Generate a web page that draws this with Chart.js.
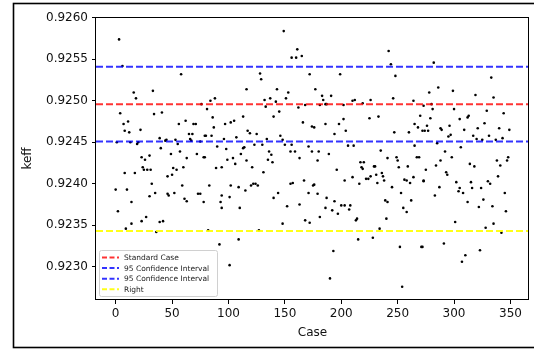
<!DOCTYPE html>
<html>
<head>
<meta charset="utf-8">
<script src="https://cdn.jsdelivr.net/npm/chart.js@4.4.1/dist/chart.umd.min.js"></script>
<style>
  html, body { margin: 0; padding: 0; background: #fff; }
  canvas { display: block; }
</style>
</head>
<body>
<canvas id="chartKeff" width="534" height="349"></canvas>
<script>
// case numbers and keff values
const caseNo = [
  3, 6, 58, 16, 18, 33, 76, 4, 34, 41, 7, 11, 8, 12, 22, 56, 62, 69, 71, 65, 68, 66, 79, 1, 13, 19, 20, 39, 40, 44,
  45, 53, 55, 57, 49, 67, 72, 75, 78, 23, 26, 30, 24, 25, 28, 31, 63, 60, 51, 54, 46, 50, 8, 17, 32, 0, 10, 14, 30, 35,
  46, 47, 52, 59, 61, 63, 73, 75, 78, 2, 14, 23, 27, 9, 39, 42, 36,
  149, 161, 156, 160, 165, 128, 129, 172, 116, 143, 153, 88, 84, 81, 132, 137, 142, 151, 133, 162, 168, 145, 140, 86, 113,
  87, 97, 102, 105, 166, 174, 117, 119, 125, 80, 85, 96, 107, 134, 146, 148, 90, 98, 113, 114, 111, 123, 130, 136, 138,
  150, 156, 155, 159, 171, 174, 79, 99, 104, 106, 116, 135, 139, 163, 89, 94, 121, 131, 83, 102, 109, 115, 120, 122, 124,
  126, 155, 157, 167, 175, 94, 101, 93, 94, 110, 140, 144, 152, 163, 171, 168, 172, 148, 82, 127, 109, 92, 101,
  242, 244, 248, 199, 177, 183, 184, 191, 181, 186, 187, 202, 210, 212, 219, 226, 246, 264, 270, 176, 186, 194, 198, 202,
  204, 225, 233, 247, 260, 265, 268, 272, 206, 211, 180, 189, 265, 179, 235, 241, 249, 250, 267, 269, 217, 220, 218, 219,
  229, 230, 251, 259, 196, 176, 203, 210, 216, 222, 224, 226, 231, 232, 236, 237, 238, 245, 256, 258, 261, 264, 273, 179,
  253, 187, 194, 239, 241, 262, 186, 192, 197, 200, 203, 208, 207, 213, 214, 181, 255, 258, 240, 234, 215, 228, 193, 252,
  271, 190, 254,
  282, 333, 286, 299, 278, 319, 335, 273, 280, 281, 300, 329, 344, 279, 305, 312, 313, 276, 296, 327, 274, 277, 288, 289,
  309, 321, 340, 349, 295, 297, 317, 320, 325, 331, 337, 343, 285, 306, 292, 298, 288, 284, 275, 293, 294, 314, 318, 338,
  341, 347, 348, 339, 273, 302, 305, 304, 308, 315, 316, 324, 330, 332, 287, 283, 345, 312, 326, 322, 334, 346, 301, 328,
  335, 342, 272, 291, 323, 310, 307
];
const keff = [
  0.92574, 0.92542, 0.92532, 0.92510, 0.92503, 0.92512, 0.92496, 0.92485, 0.92484, 0.92486, 0.92472, 0.92475, 0.92464,
  0.92462, 0.92465, 0.92472, 0.92476, 0.92472, 0.92472, 0.92460, 0.92460, 0.92454, 0.92458, 0.92450, 0.92450, 0.92448,
  0.92450, 0.92455, 0.92443, 0.92452, 0.92453, 0.92453, 0.92448, 0.92439, 0.92436, 0.92452, 0.92436, 0.92451, 0.92432,
  0.92432, 0.92429, 0.92434, 0.92420, 0.92417, 0.92417, 0.92417, 0.92431, 0.92420, 0.92419, 0.92417, 0.92409, 0.92411,
  0.92413, 0.92413, 0.92400, 0.92393, 0.92393, 0.92378, 0.92385, 0.92389, 0.92388, 0.92386, 0.92389, 0.92398, 0.92382,
  0.92379, 0.92388, 0.92388, 0.92378, 0.92367, 0.92352, 0.92355, 0.92360, 0.92346, 0.92354, 0.92355, 0.92342,
  0.92584, 0.92562, 0.92552, 0.92552, 0.92554, 0.92533, 0.92526, 0.92532, 0.92514, 0.92514, 0.92510, 0.92503, 0.92500,
  0.92490, 0.92501, 0.92503, 0.92499, 0.92503, 0.92493, 0.92492, 0.92495, 0.92487, 0.92481, 0.92480, 0.92481, 0.92468,
  0.92472, 0.92474, 0.92476, 0.92474, 0.92469, 0.92464, 0.92461, 0.92460, 0.92458, 0.92458, 0.92454, 0.92456, 0.92454,
  0.92458, 0.92453, 0.92445, 0.92442, 0.92443, 0.92444, 0.92436, 0.92447, 0.92447, 0.92439, 0.92435, 0.92447, 0.92447,
  0.92439, 0.92439, 0.92445, 0.92439, 0.92432, 0.92429, 0.92431, 0.92424, 0.92428, 0.92429, 0.92426, 0.92431, 0.92419,
  0.92420, 0.92420, 0.92414, 0.92398, 0.92398, 0.92396, 0.92392, 0.92398, 0.92400, 0.92400, 0.92398, 0.92400, 0.92401,
  0.92404, 0.92398, 0.92386, 0.92384, 0.92378, 0.92371, 0.92371, 0.92383, 0.92389, 0.92373, 0.92375, 0.92389, 0.92356,
  0.92353, 0.92352, 0.92344, 0.92344, 0.92333, 0.92327, 0.92302,
  0.92560, 0.92544, 0.92530, 0.92532, 0.92514, 0.92506, 0.92501, 0.92506, 0.92495, 0.92496, 0.92496, 0.92495, 0.92500,
  0.92501, 0.92497, 0.92501, 0.92503, 0.92500, 0.92482, 0.92468, 0.92472, 0.92460, 0.92472, 0.92478, 0.92464, 0.92479,
  0.92481, 0.92462, 0.92462, 0.92472, 0.92468, 0.92464, 0.92446, 0.92446, 0.92439, 0.92436, 0.92446, 0.92428, 0.92440,
  0.92431, 0.92432, 0.92428, 0.92432, 0.92432, 0.92426, 0.92426, 0.92420, 0.92418, 0.92421, 0.92421, 0.92420, 0.92421,
  0.92417, 0.92399, 0.92404, 0.92408, 0.92400, 0.92406, 0.92406, 0.92409, 0.92411, 0.92401, 0.92413, 0.92409, 0.92404,
  0.92396, 0.92405, 0.92404, 0.92401, 0.92408, 0.92404, 0.92388, 0.92389, 0.92383, 0.92379, 0.92380, 0.92378, 0.92380,
  0.92371, 0.92368, 0.92364, 0.92374, 0.92374, 0.92374, 0.92369, 0.92356, 0.92358, 0.92360, 0.92371, 0.92366, 0.92358,
  0.92346, 0.92333, 0.92335, 0.92319, 0.92324, 0.92324, 0.92286, 0.92276,
  0.92546, 0.92528, 0.92516, 0.92512, 0.92510, 0.92507, 0.92504, 0.92494, 0.92496, 0.92490, 0.92490, 0.92488, 0.92485,
  0.92479, 0.92478, 0.92480, 0.92482, 0.92470, 0.92470, 0.92473, 0.92464, 0.92464, 0.92467, 0.92465, 0.92465, 0.92467,
  0.92467, 0.92465, 0.92457, 0.92459, 0.92458, 0.92454, 0.92453, 0.92458, 0.92453, 0.92455, 0.92449, 0.92444, 0.92439,
  0.92432, 0.92428, 0.92422, 0.92417, 0.92414, 0.92411, 0.92424, 0.92421, 0.92428, 0.92422, 0.92428, 0.92432, 0.92409,
  0.92403, 0.92402, 0.92395, 0.92391, 0.92389, 0.92402, 0.92395, 0.92395, 0.92403, 0.92400, 0.92396, 0.92386, 0.92389,
  0.92378, 0.92381, 0.92372, 0.92373, 0.92367, 0.92354, 0.92347, 0.92352, 0.92341, 0.92324, 0.92328, 0.92320, 0.92314,
  0.92306
];
// reference levels
const lineLabels = ['Standard Case', '95 Confidence Interval', '95 Confidence Interval', 'Right'];
const lineValues = [0.92496, 0.92541, 0.92451, 0.92343];
const lineColors = ['rgba(255,0,0,0.8)', 'rgba(0,0,255,0.8)', 'rgba(0,0,255,0.8)', 'rgba(255,255,0,0.9)'];
const xTicks = [0, 50, 100, 150, 200, 250, 300, 350];
const yTicks = [0.9230, 0.9235, 0.9240, 0.9245, 0.9250, 0.9255, 0.9260];
const xMin = -17.45, xMax = 366.45;
const yMin = 0.92260, yMax = 0.92601;

const FONT = 'DejaVu Sans';

const figFrame = {
  id: 'figFrame',
  beforeDraw(chart) {
    const ctx = chart.ctx;
    ctx.save();
    ctx.fillStyle = '#fff';
    ctx.fillRect(0, 0, chart.width, chart.height);
    ctx.strokeStyle = '#000';
    ctx.lineWidth = 1.6;
    ctx.strokeRect(13.5, 3.5, 540, 344);
    ctx.restore();
  },
  afterDatasetsDraw(chart) {
    const ctx = chart.ctx, a = chart.chartArea;
    ctx.save();
    ctx.strokeStyle = '#000';
    ctx.lineWidth = 1;
    ctx.strokeRect(Math.round(a.left) - 0.5, Math.round(a.top) + 0.5, Math.round(a.right - a.left), Math.round(a.bottom - a.top) - 1);

    // legend in the lower left corner
    const lx = a.left + 3, ly = a.bottom - 50, lw = 118, lh = 46;
    ctx.fillStyle = 'rgba(255,255,255,0.85)';
    ctx.strokeStyle = '#d0d0d0';
    ctx.beginPath();
    ctx.roundRect(lx + 0.5, ly + 0.5, lw, lh, 2);
    ctx.fill();
    ctx.stroke();
    ctx.font = '7.5px "' + FONT + '"';
    ctx.textBaseline = 'middle';
    ctx.fillStyle = '#222';
    lineLabels.forEach((lab, i) => {
      const yy = ly + 7.5 + i * 10.6;
      ctx.strokeStyle = lineColors[i];
      ctx.lineWidth = 2;
      ctx.setLineDash([5, 2.5]);
      ctx.beginPath();
      ctx.moveTo(lx + 3, yy);
      ctx.lineTo(lx + 20, yy);
      ctx.stroke();
      ctx.setLineDash([]);
      ctx.fillText(lab, lx + 25, yy + 0.5);
    });
    ctx.restore();
  }
};

const datasets = [{
  type: 'scatter',
  data: caseNo.map((c, i) => ({ x: c, y: keff[i] })),
  pointRadius: 1.3,
  pointBackgroundColor: '#000',
  pointBorderWidth: 0,
  order: 5
}];
lineValues.forEach((v, i) => {
  datasets.push({
    type: 'line',
    label: lineLabels[i],
    data: [{ x: xMin, y: v }, { x: xMax, y: v }],
    borderColor: lineColors[i],
    borderWidth: 2,
    borderDash: [7, 3],
    pointRadius: 0,
    fill: false,
    order: 1
  });
});

new Chart(document.getElementById('chartKeff'), {
  type: 'scatter',
  data: { datasets: datasets },
  options: {
    responsive: false,
    animation: false,
    devicePixelRatio: 1,
    layout: { padding: { left: 21, top: 17, right: 5, bottom: 9 } },
    plugins: { legend: { display: false }, tooltip: { enabled: false } },
    scales: {
      x: {
        type: 'linear',
        min: xMin,
        max: xMax,
        afterBuildTicks: (s) => { s.ticks = xTicks.map(v => ({ value: v })); },
        afterFit: (s) => { s.height = 40; },
        grid: { display: true, drawOnChartArea: false, drawTicks: true, tickLength: 4, color: '#000' },
        border: { display: false },
        ticks: { padding: 3, color: '#111', font: { family: FONT, size: 12 }, maxRotation: 0, autoSkip: false },
        title: { display: true, text: 'Case', color: '#111', font: { family: FONT, size: 12 }, padding: 0 }
      },
      y: {
        type: 'linear',
        min: yMin,
        max: yMax,
        afterBuildTicks: (s) => { s.ticks = yTicks.map(v => ({ value: v })); },
        afterFit: (s) => { s.width = 75; },
        grid: { display: true, drawOnChartArea: false, drawTicks: true, tickLength: 4, color: '#000' },
        border: { display: false },
        ticks: { padding: 4, color: '#111', font: { family: FONT, size: 12 }, autoSkip: false, callback: (v) => Number(v).toFixed(4) },
        title: { display: true, text: 'keff', color: '#111', font: { family: FONT, size: 12 }, padding: 0 }
      }
    }
  },
  plugins: [figFrame]
});
</script>
</body>
</html>
